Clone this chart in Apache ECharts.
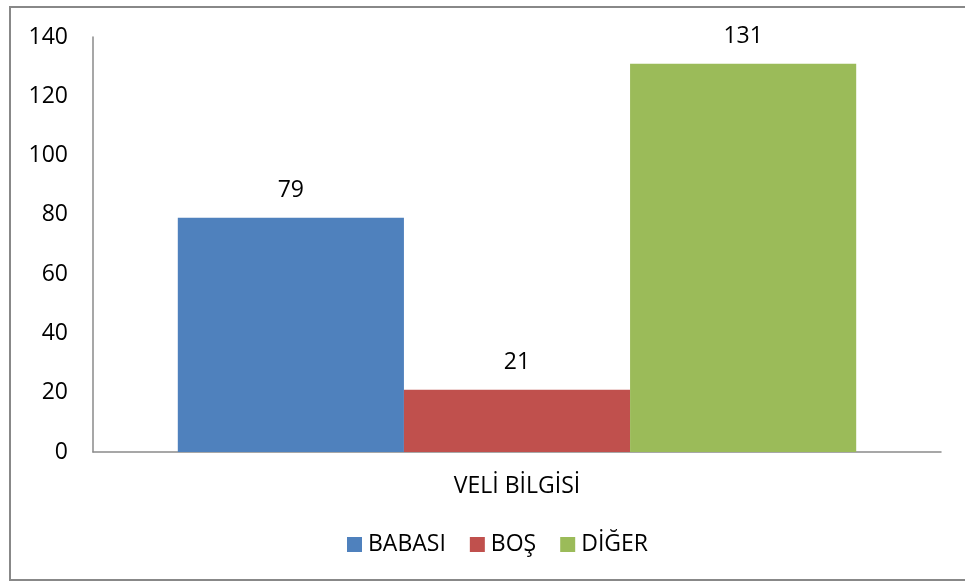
<!DOCTYPE html>
<html>
<head>
<meta charset="utf-8">
<script src="https://cdn.jsdelivr.net/npm/echarts@6/dist/echarts.min.js"></script>
<style>
  html, body { margin: 0; padding: 0; background: #fff; }
  #chart { width: 965px; height: 583px; }
</style>
</head>
<body>
<div id="chart"></div>
<script>
// veri
var categories = ['VELİ BİLGİSİ'];
var seriesNames = ['BABASI', 'BOŞ', 'DİĞER'];
var seriesValues = [[79], [21], [131]];
var seriesColors = ['#4F81BD', '#C0504D', '#9BBB59'];
var yTicks = { min: 0, max: 140, interval: 20 };

var FONT = '"Open Sans", "DejaVu Sans", sans-serif';
var FS = 23;

var myChart = echarts.init(document.getElementById('chart'));

var series = seriesNames.map(function (name, i) {
  return {
    name: name,
    type: 'bar',
    data: seriesValues[i],
    barGap: '0%',
    barCategoryGap: '20%',
    itemStyle: { color: seriesColors[i] },
    label: {
      show: true,
      position: 'top',
      distance: 16,
      color: '#000',
      fontFamily: FONT,
      fontSize: FS
    }
  };
});

var option = {
  animation: false,
  backgroundColor: '#fff',
  grid: { left: 93, right: 24, top: 37, bottom: 131 },
  legend: {
    data: seriesNames,
    bottom: 22,
    left: 342,
    itemWidth: 15,
    itemHeight: 15,
    itemGap: 24,
    icon: 'rect',
    textStyle: { color: '#000', fontFamily: FONT, fontSize: FS, padding: [0, 0, 0, 1] }
  },
  xAxis: {
    type: 'category',
    data: categories,
    axisLine: { lineStyle: { color: '#8a8a8a', width: 1.5 } },
    axisTick: { show: false },
    axisLabel: { color: '#000', fontFamily: FONT, fontSize: FS, margin: 23 }
  },
  yAxis: {
    type: 'value',
    min: yTicks.min,
    max: yTicks.max,
    interval: yTicks.interval,
    axisLine: { show: true, lineStyle: { color: '#8a8a8a', width: 1.5 } },
    axisTick: { show: false },
    splitLine: { show: false },
    axisLabel: { color: '#000', fontFamily: FONT, fontSize: FS, margin: 25 }
  },
  graphic: [{
    type: 'rect',
    shape: { x: 10, y: 7, width: 970, height: 573 },
    style: { fill: 'none', stroke: '#888', lineWidth: 2 },
    silent: true
  }],
  series: series
};

myChart.setOption(option);
</script>
</body>
</html>
